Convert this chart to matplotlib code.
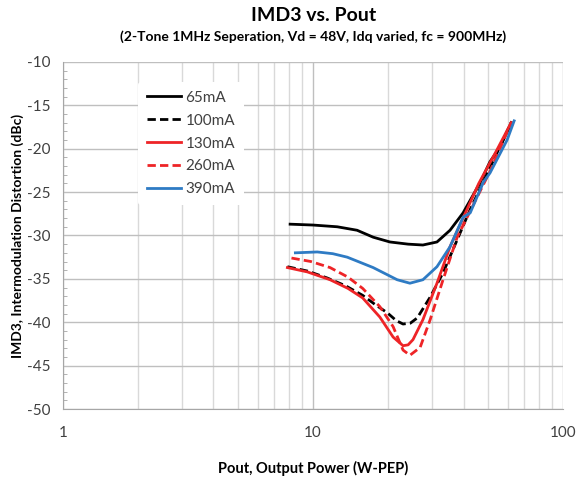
import matplotlib.pyplot as plt
from matplotlib.ticker import FixedLocator, NullFormatter

plt.rcParams['font.family'] = ['Lato', 'DejaVu Sans']
plt.rcParams['axes.unicode_minus'] = False

# 65mA
p_65 = [8.1, 10.0, 12.5, 15.0, 17.4, 20.3, 24.0, 27.5, 31.3, 35.3, 39.8, 46.6, 51.0, 56.0, 62.0]
imd_65 = [-28.7, -28.8, -29.0, -29.4, -30.2, -30.75, -31.0, -31.1, -30.75, -29.4, -27.4, -23.9, -21.5, -19.8, -17.0]
# 100mA
p_100 = [7.9, 9.5, 11.4, 13.5, 15.8, 17.8, 19.8, 21.5, 22.9, 24.5, 26.1, 29.4, 33.1, 37.7, 42.5, 51.0, 62.0]
imd_100 = [-33.6, -34.1, -34.9, -35.8, -36.9, -38.0, -38.9, -39.8, -40.2, -40.1, -39.5, -37.1, -34.3, -30.5, -27.0, -22.2, -17.0]
# 130mA
p_130 = [7.9, 9.5, 11.7, 13.8, 15.8, 18.5, 20.9, 22.9, 24.0, 25.1, 27.5, 31.3, 35.3, 39.8, 46.0, 54.0, 62.0]
imd_130 = [-33.7, -34.2, -35.1, -36.1, -37.2, -39.4, -41.7, -42.7, -42.6, -42.0, -39.7, -35.5, -31.3, -28.0, -24.0, -20.3, -17.0]
# 260mA
p_260 = [8.2, 9.8, 11.7, 13.8, 15.8, 18.5, 20.9, 22.9, 24.4, 26.8, 29.4, 33.1, 37.7, 42.5, 51.0, 62.0]
imd_260 = [-32.6, -33.0, -33.7, -34.8, -36.1, -38.2, -40.5, -43.2, -43.8, -42.9, -39.7, -35.1, -30.2, -27.2, -22.6, -17.0]
# 390mA
p_390 = [8.5, 10.4, 12.0, 13.7, 17.4, 21.7, 24.4, 27.5, 31.3, 35.3, 39.8, 42.5, 47.9, 51.0, 59.7, 63.7]
imd_390 = [-32.0, -31.9, -32.1, -32.5, -33.7, -35.1, -35.5, -35.1, -33.6, -31.3, -27.9, -27.4, -23.9, -22.8, -19.0, -16.8]

RED = '#ee2427'
BLUE = '#2e7bc4'

fig = plt.figure(figsize=(5.77, 4.83), dpi=100)
ax = fig.add_axes([0.109, 0.153, 0.867, 0.719])

ax.plot(p_65, imd_65, color='black', lw=2, label='65mA')
ax.plot(p_100, imd_100, color='black', lw=2, ls=(0, (3, 1.5)), label='100mA')
ax.plot(p_130, imd_130, color=RED, lw=2, label='130mA')
ax.plot(p_260, imd_260, color=RED, lw=2, ls=(0, (3, 1.5)), label='260mA')
ax.plot(p_390, imd_390, color=BLUE, lw=2, label='390mA')

ax.set_xscale('log')
ax.set_xlim(1, 100)
ax.set_ylim(-50, -10)
ax.set_xticks([1, 10, 100])
ax.set_xticklabels(['1', '10', '100'])
ax.xaxis.set_minor_locator(FixedLocator([2, 3, 4, 5, 6, 7, 8, 9, 20, 30, 40, 50, 60, 70, 80, 90]))
ax.xaxis.set_minor_formatter(NullFormatter())
ax.set_yticks(range(-50, -9, 5))
ax.yaxis.set_minor_locator(FixedLocator([v for v in range(-50, -9) if v % 5 != 0]))

ax.grid(True, which='major', axis='y', color='#bfbfbf', lw=1)
ax.grid(True, which='major', axis='x', color='#bfbfbf', lw=1)
ax.grid(True, which='minor', axis='x', color='#d9d9d9', lw=1)
ax.set_axisbelow(True)

for s in ['top', 'right']:
    ax.spines[s].set_visible(False)
ax.spines['left'].set_color('#a6a6a6')
ax.spines['bottom'].set_color('#a6a6a6')
ax.tick_params(axis='both', which='major', length=0, labelsize=11, colors='#404040', pad=9)
ax.tick_params(axis='x', which='major', pad=12)
ax.tick_params(axis='y', which='minor', length=3, direction='in', color='#a6a6a6')
ax.tick_params(axis='x', which='minor', length=0)

fig.text(0.543, 0.031, 'Pout, Output Power (W-PEP)', ha='center', va='center',
         fontsize=10.5, fontweight='bold')
fig.text(0.031, 0.512, 'IMD3, Intermodulation Distortion (dBc)', ha='center', va='center',
         rotation=90, fontsize=10, fontweight='bold')

fig.text(0.543, 0.968, 'IMD3 vs. Pout', ha='center', va='center', fontsize=14, fontweight='bold')
fig.text(0.543, 0.925, '(2-Tone 1MHz Seperation, Vd = 48V, Idq varied, fc = 900MHz)',
         ha='center', va='center', fontsize=10, fontweight='bold')

leg = ax.legend(loc='upper left', bbox_to_anchor=(0.135, 0.965), frameon=True, fontsize=11,
                handlelength=2.2, handletextpad=0.3, labelspacing=0.58, borderpad=0.6)
leg.get_frame().set_edgecolor('none')
leg.get_frame().set_facecolor('white')
leg.get_frame().set_alpha(1)
for t in leg.get_texts():
    t.set_color('#404040')

fig.savefig('out.png', dpi=100)
